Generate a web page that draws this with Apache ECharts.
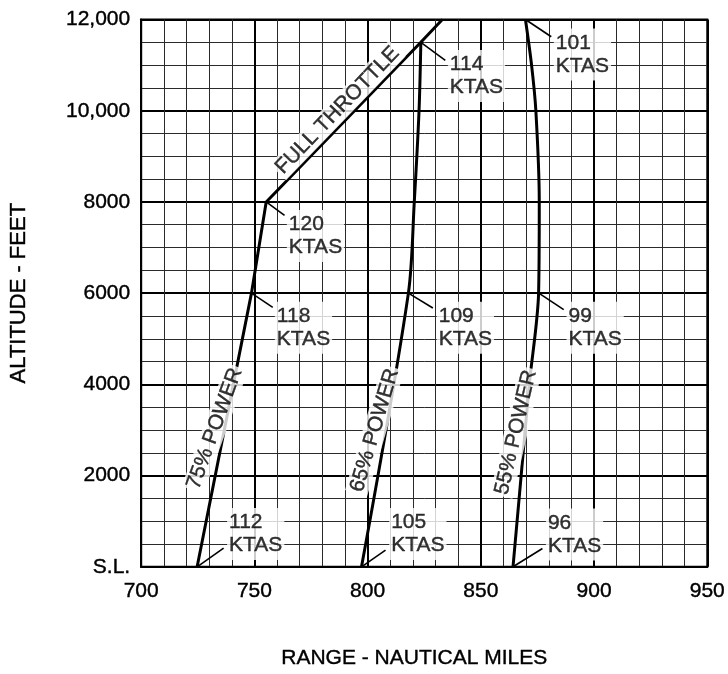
<!DOCTYPE html>
<html>
<head>
<meta charset="utf-8">
<script src="https://cdn.jsdelivr.net/npm/echarts@6/dist/echarts.min.js"></script>
<style>
  html, body { margin: 0; padding: 0; background: #fff; }
  #chart { width: 728px; height: 674px; }
</style>
</head>
<body>
<div id="chart"></div>
<script>
// ---- Data (range in nautical miles, altitude in feet) ----
const power75 = [[724.7, 0], [748.7, 6000], [755.2, 8000]];
const fullThrottle = [[755.2, 8000], [823.5, 11500], [833, 12000]];
const power65 = [[797.3, 0], [818, 6000], [820.6, 8000], [822.7, 10000], [823.5, 11500]];
const power55 = [[864.2, 0], [867.8, 2000], [871.4, 4000], [875.5, 6000], [875.8, 8000], [874.3, 10000], [872.4, 11000], [869.7, 12000]];

const xTicks = [700, 750, 800, 850, 900, 950];
const yTicks = [0, 2000, 4000, 6000, 8000, 10000, 12000];
const yTickLabels = ['S.L.', '2000', '4000', '6000', '8000', '10,000', '12,000'];

// speed annotations: text, leader start (on curve), leader end, label anchor
const speedText = ['114\nKTAS', '101\nKTAS', '120\nKTAS', '118\nKTAS', '109\nKTAS', '99\nKTAS', '112\nKTAS', '105\nKTAS', '96\nKTAS'];
const leaderFrom = [[823.5, 11500], [869.7, 12000], [755.2, 8000], [748.7, 6000], [818, 6000], [875.6, 6000], [724.7, 0], [797.3, 0], [864.2, 0]];
const leaderTo = [[834.3, 11104], [881.1, 11621], [763.3, 7704], [758.1, 5688], [828.8, 5675], [886.6, 5638], [736.4, 409], [807.9, 366], [877.2, 402]];
const labelAt = [[835.2, 10760], [882.0, 11233], [764.1, 7252], [758.8, 5244], [830.3, 5244], [887.6, 5244], [737.7, 721], [809.3, 721], [878.5, 710]];

const curveText = ['FULL THROTTLE', '75% POWER', '65% POWER', '55% POWER'];
const curveTextAt = [[786.7, 10007], [732.5, 3034], [803.1, 2991], [865.5, 2948]];
const curveTextAngle = [46, 70, 73.5, 77];

// ---- Chart ----
const FONT = 'Liberation Sans, Arial, Helvetica, sans-serif';
const INK = { color: '#000', textBorderColor: '#000', textBorderWidth: 0.4 };
const chart = echarts.init(document.getElementById('chart'), null, { renderer: 'canvas' });

const series = [];
const curveStyle = { color: '#000', width: 3 };
[power75, fullThrottle, power65, power55].forEach((d, i) => {
  series.push({
    type: 'line', data: d, showSymbol: false, symbol: 'none',
    smooth: (i >= 2) ? 0.3 : false,
    lineStyle: curveStyle, z: 3, silent: true
  });
});
leaderFrom.forEach((p, i) => {
  series.push({
    type: 'line', data: [p, leaderTo[i]], showSymbol: false, symbol: 'none',
    lineStyle: { color: '#000', width: 1.6 }, z: 3, silent: true
  });
});
series.push({
  type: 'scatter', symbolSize: 1, itemStyle: { color: 'rgba(0,0,0,0)' }, z: 5, silent: true,
  data: labelAt.map((p, i) => ({ value: p, label: { formatter: speedText[i] } })),
  label: Object.assign({
    show: true, position: 'right', distance: 0, align: 'left',
    fontFamily: FONT, fontSize: 21, lineHeight: 23,
    backgroundColor: '#fff', padding: [3, 2]
  }, INK)
});
series.push({
  type: 'scatter', symbolSize: 1, itemStyle: { color: 'rgba(0,0,0,0)' }, z: 5, silent: true,
  data: curveTextAt.map((p, i) => ({ value: p, label: { formatter: curveText[i], rotate: curveTextAngle[i] } })),
  label: Object.assign({
    show: true, position: 'inside',
    fontFamily: FONT, fontSize: 21,
    backgroundColor: '#fff', padding: [1, 2]
  }, INK)
});

chart.setOption({
  animation: false,
  backgroundColor: '#fff',
  grid: { left: 131, right: 20, top: 19.5, bottom: 97, show: true, borderColor: '#000', borderWidth: 2, backgroundColor: 'transparent' },
  xAxis: {
    type: 'value', min: xTicks[0], max: xTicks[xTicks.length - 1], interval: 50,
    name: 'RANGE - NAUTICAL MILES', nameLocation: 'middle', nameGap: 81,
    nameTextStyle: Object.assign({ fontFamily: FONT, fontSize: 21, padding: [0, 20, 0, 0] }, INK),
    axisLine: { show: true, lineStyle: { color: '#000', width: 2 } },
    axisTick: { show: false },
    axisLabel: Object.assign({ margin: 14, fontFamily: FONT, fontSize: 21, lineHeight: 21,
      formatter: v => xTicks.includes(v) ? String(v) : '' }, INK),
    splitLine: { show: true, lineStyle: { color: '#000', width: 2 } },
    minorTick: { show: false, splitNumber: 5 },
    minorSplitLine: { show: true, lineStyle: { color: '#2a2a2a', width: 1 } }
  },
  yAxis: {
    type: 'value', min: yTicks[0], max: yTicks[yTicks.length - 1], interval: 2000,
    name: 'ALTITUDE - FEET', nameLocation: 'middle', nameGap: 111,
    nameTextStyle: Object.assign({ fontFamily: FONT, fontSize: 22 }, INK),
    axisLine: { show: true, lineStyle: { color: '#000', width: 2 } },
    axisTick: { show: false },
    axisLabel: Object.assign({ margin: 11, fontFamily: FONT, fontSize: 21,
      formatter: v => { const k = yTicks.indexOf(v); return k >= 0 ? yTickLabels[k] : ''; } }, INK),
    splitLine: { show: true, lineStyle: { color: '#000', width: 2 } },
    minorTick: { show: false, splitNumber: 4 },
    minorSplitLine: { show: true, lineStyle: { color: '#2a2a2a', width: 1 } }
  },
  series: series
});
</script>
</body>
</html>
